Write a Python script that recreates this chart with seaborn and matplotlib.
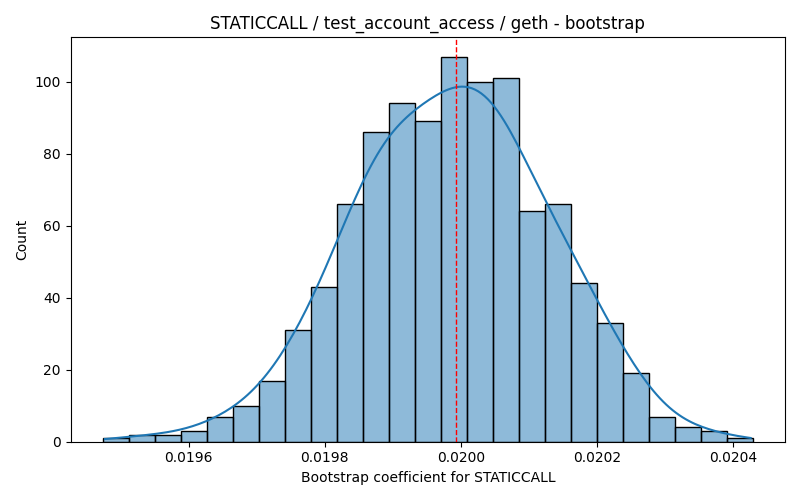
import numpy as np
import pandas as pd
import matplotlib
matplotlib.use("Agg")
import matplotlib.pyplot as plt
import seaborn as sns

# Histogram data
counts = [1, 2, 2, 3, 7, 10, 17, 31, 43, 66, 86, 94, 89, 107, 100, 101,
          64, 66, 44, 33, 19, 7, 4, 3, 1]
bin_start = 0.019474
bin_end = 0.020429
ref_value = 0.019993

title = "STATICCALL / test_account_access / geth - bootstrap"
xlabel = "Bootstrap coefficient for STATICCALL"
ylabel = "Count"

edges = np.linspace(bin_start, bin_end, len(counts) + 1)
centers = (edges[:-1] + edges[1:]) / 2
samples = np.repeat(centers, counts)
df = pd.DataFrame({"coef": samples})

fig, ax = plt.subplots(figsize=(8, 5), dpi=100)
sns.histplot(data=df, x="coef", bins=len(counts),
             binrange=(bin_start, bin_end), kde=True,
             kde_kws={"bw_adjust": 1.3, "cut": 0.35}, ax=ax,
             edgecolor="black", linewidth=1)
ax.axvline(ref_value, color="red", linestyle="--", linewidth=1)
ax.set_title(title)
ax.set_xlabel(xlabel)
ax.set_ylabel(ylabel)
fig.tight_layout()
fig.savefig("out.png", dpi=100)
